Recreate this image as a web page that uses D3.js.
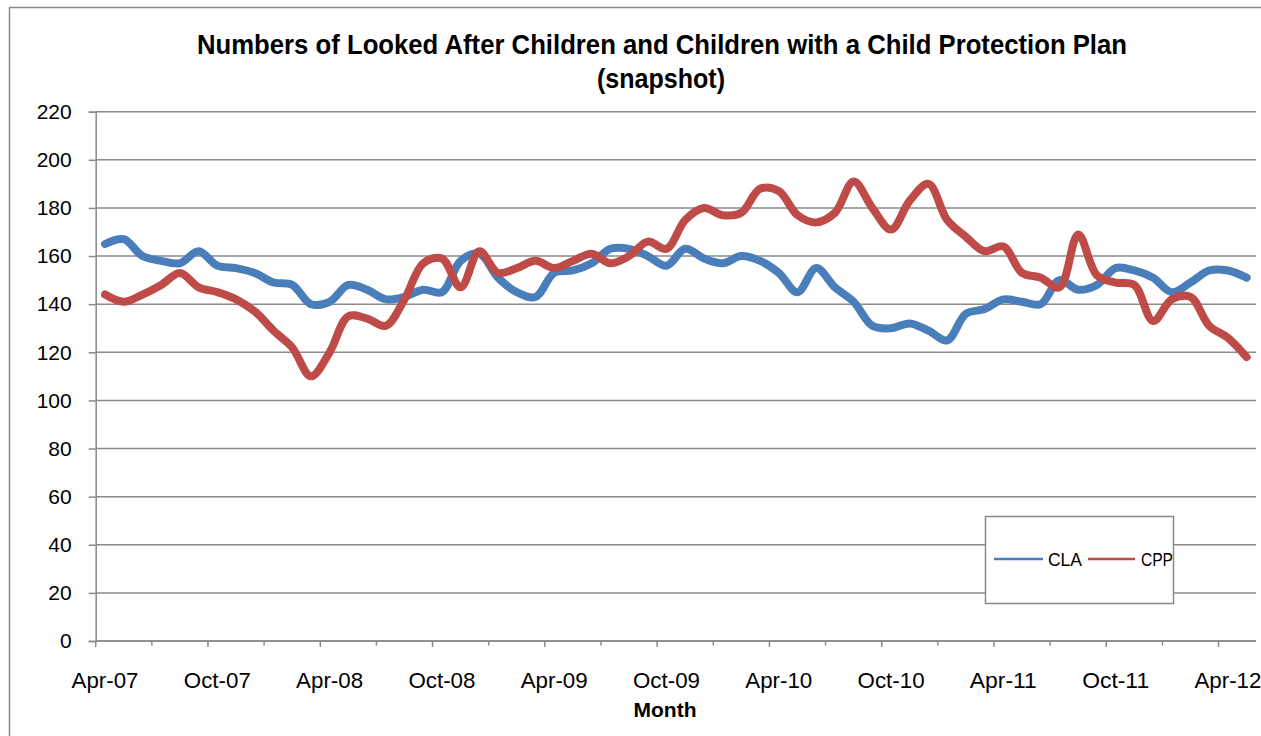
<!DOCTYPE html>
<html>
<head>
<meta charset="utf-8">
<script src="https://cdn.jsdelivr.net/npm/d3@7"></script>
<style>
  body { margin: 0; background: #fff; }
  svg { display: block; font-family: "Liberation Sans", Arial, sans-serif; }
</style>
</head>
<body>
<svg id="chart" width="1261" height="736"></svg>
<script>
// monthly snapshots, Apr-07 .. May-12
const months = [
  "Apr-07","May-07","Jun-07","Jul-07","Aug-07","Sep-07","Oct-07","Nov-07","Dec-07",
  "Jan-08","Feb-08","Mar-08","Apr-08","May-08","Jun-08","Jul-08","Aug-08","Sep-08","Oct-08","Nov-08","Dec-08",
  "Jan-09","Feb-09","Mar-09","Apr-09","May-09","Jun-09","Jul-09","Aug-09","Sep-09","Oct-09","Nov-09","Dec-09",
  "Jan-10","Feb-10","Mar-10","Apr-10","May-10","Jun-10","Jul-10","Aug-10","Sep-10","Oct-10","Nov-10","Dec-10",
  "Jan-11","Feb-11","Mar-11","Apr-11","May-11","Jun-11","Jul-11","Aug-11","Sep-11","Oct-11","Nov-11","Dec-11",
  "Jan-12","Feb-12","Mar-12","Apr-12","May-12"
];

const cla = [
  165,167,160,158,157,162,156,155,153,
  149,148,140,141,148,146,142,143,146,145,158,161,
  151,145,143,153,154,157,163,163,160,156,163,159,
  157,160,158,153,145,155,147,141,131,130,132,129,
  125,136,138,142,141,140,150,146,148,155,154,151,
  145,149,154,154,151
];

const cpp = [
  144,141,144,148,153,147,145,142,137,
  129,122,110,120,135,134,131,142,157,159,147,162,
  153,155,158,155,158,161,157,160,166,163,175,180,
  177,178,188,187,177,174,178,191,180,171,183,190,
  175,168,162,164,153,151,147,169,152,149,148,133,
  142,143,131,126,118
];

const xTickLabels = ["Apr-07","Oct-07","Apr-08","Oct-08","Apr-09","Oct-09",
                     "Apr-10","Oct-10","Apr-11","Oct-11","Apr-12"];
const yTicks = [0,20,40,60,80,100,120,140,160,180,200,220];

const seriesNames = ["CLA", "CPP"];
const colors = { CLA: "#4a7ebb", CPP: "#be4b48" };
const gray = "#8a8a8a";

const svg = d3.select("#chart");
const plotLeft = 95.7, plotRight = 1256, plotTop = 111.7, plotBottom = 641;

// outer chart frame
svg.append("rect")
  .attr("x", 9.5).attr("y", 7.5)
  .attr("width", 1300).attr("height", 800)
  .attr("fill", "#fff").attr("stroke", gray).attr("stroke-width", 1.5);

const x = d3.scaleBand().domain(months).range([plotLeft, plotRight]);
const cx = m => x(m) + x.bandwidth() / 2;
const y = d3.scaleLinear().domain([0, 220]).range([plotBottom, plotTop]);

// gridlines
svg.append("g").selectAll("line")
  .data(yTicks)
  .join("line")
  .attr("x1", plotLeft).attr("x2", plotRight)
  .attr("y1", d => y(d)).attr("y2", d => y(d))
  .attr("stroke", gray).attr("stroke-width", 1.5);

// y axis
const yAxis = svg.append("g")
  .attr("transform", `translate(${plotLeft},0)`)
  .call(d3.axisLeft(y).tickValues(yTicks).tickSize(7).tickPadding(17));
yAxis.select(".domain").attr("stroke", gray).attr("stroke-width", 1.5);
yAxis.selectAll(".tick line").attr("stroke", gray).attr("stroke-width", 1.5);
yAxis.selectAll(".tick text")
  .attr("font-size", 21).attr("fill", "#000")
  .attr("font-family", "'Liberation Sans', Arial, sans-serif");

// x axis line + ticks every 3 months
const xAxis = svg.append("g");
xAxis.append("line")
  .attr("x1", plotLeft).attr("x2", plotRight)
  .attr("y1", plotBottom).attr("y2", plotBottom)
  .attr("stroke", gray).attr("stroke-width", 1.5);
xAxis.selectAll(".xt")
  .data(months.filter((m, i) => i % 3 === 0))
  .join("line")
  .attr("class", "xt")
  .attr("x1", d => x(d)).attr("x2", d => x(d))
  .attr("y1", plotBottom).attr("y2", (d, i) => plotBottom + (i % 2 === 0 ? 6 : 4.5))
  .attr("stroke", gray).attr("stroke-width", 1.5);
xAxis.selectAll(".xl")
  .data(xTickLabels)
  .join("text")
  .attr("class", "xl")
  .attr("x", d => cx(d))
  .attr("y", 688)
  .attr("text-anchor", "middle")
  .attr("font-size", 21.5)
  .attr("textLength", 67).attr("lengthAdjust", "spacingAndGlyphs")
  .text(d => d);

svg.append("text")
  .attr("x", 665).attr("y", 717)
  .attr("text-anchor", "middle")
  .attr("font-size", 21).attr("font-weight", "bold")
  .text("Month");

// series lines
const line = d3.line()
  .x(d => cx(d.m))
  .y(d => y(d.v))
  .curve(d3.curveCatmullRom.alpha(0.5));

const seriesData = {
  CLA: months.map((m, i) => ({ m, v: cla[i] })),
  CPP: months.map((m, i) => ({ m, v: cpp[i] }))
};

seriesNames.forEach(name => {
  svg.append("path")
    .datum(seriesData[name])
    .attr("d", line)
    .attr("fill", "none")
    .attr("stroke", colors[name])
    .attr("stroke-width", 8)
    .attr("stroke-linejoin", "round")
    .attr("stroke-linecap", "round");
});

// title
svg.append("text")
  .attr("x", 662).attr("y", 54)
  .attr("text-anchor", "middle")
  .attr("font-size", 28.5).attr("font-weight", "bold")
  .attr("textLength", 930).attr("lengthAdjust", "spacingAndGlyphs")
  .text("Numbers of Looked After Children and Children with a Child Protection Plan");
svg.append("text")
  .attr("x", 661).attr("y", 88)
  .attr("text-anchor", "middle")
  .attr("font-size", 28.5).attr("font-weight", "bold")
  .attr("textLength", 128).attr("lengthAdjust", "spacingAndGlyphs")
  .text("(snapshot)");

// legend
const legend = svg.append("g");
legend.append("rect")
  .attr("x", 985.5).attr("y", 516.5)
  .attr("width", 188).attr("height", 87)
  .attr("fill", "#fff").attr("stroke", gray).attr("stroke-width", 1.5);
const legendItems = [
  { name: "CLA", x1: 994, x2: 1043, tx: 1048, tw: 34 },
  { name: "CPP", x1: 1088, x2: 1135, tx: 1141, tw: 32 }
];
legendItems.forEach(it => {
  legend.append("line")
    .attr("x1", it.x1).attr("x2", it.x2)
    .attr("y1", 559).attr("y2", 559)
    .attr("stroke", colors[it.name]).attr("stroke-width", 2.5);
  legend.append("text")
    .attr("x", it.tx).attr("y", 566)
    .attr("font-size", 19)
    .attr("textLength", it.tw).attr("lengthAdjust", "spacingAndGlyphs")
    .text(it.name);
});
</script>
</body>
</html>
